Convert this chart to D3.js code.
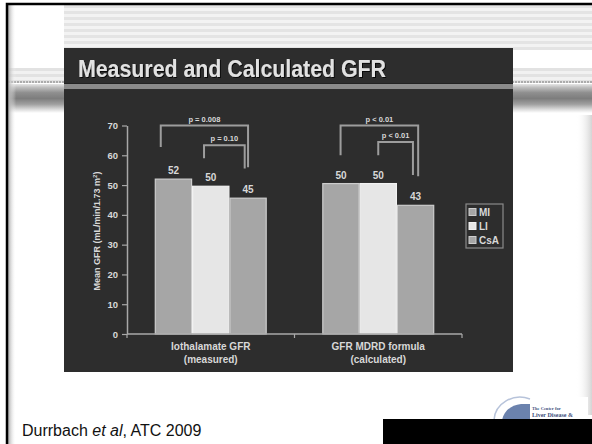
<!DOCTYPE html>
<html>
<head>
<meta charset="utf-8">
<script src="https://cdn.jsdelivr.net/npm/d3@7"></script>
<style>
  html, body { margin: 0; padding: 0; background: #fff; }
  svg { display: block; }
  text { font-family: 'Liberation Sans', Arial, sans-serif; }
</style>
</head>
<body>
<svg id="chart" width="592" height="444"></svg>
<script>
'use strict'

// chart data
var categories = ['Iothalamate GFR|(measured)', 'GFR MDRD formula|(calculated)']
var series = ['MI', 'LI', 'CsA']
var miValues = [52, 50.5]
var liValues = [49.6, 50.5]
var csaValues = [45.6, 43.2]
var valueLabels = [['52', '50', '45'], ['50', '50', '43']]
var yTicks = [0, 10, 20, 30, 40, 50, 60, 70]

// significance brackets: group, bar index + where on the bar, heights in data units
var brackets = [
  { group: 0, from: 0, fromAt: 0.16, to: 2, toAt: 0.5, top: 70, leftEnd: 62.8, rightEnd: 56, label: 'p = 0.008' },
  { group: 0, from: 1, fromAt: 0.32, to: 2, toAt: 0.41, top: 63.4, leftEnd: 59, rightEnd: 55.6, label: 'p = 0.10' },
  { group: 1, from: 0, fromAt: 0.49, to: 2, toAt: 0.57, top: 70, leftEnd: 60, rightEnd: 53, label: 'p < 0.01' },
  { group: 1, from: 1, fromAt: 0.5, to: 2, toAt: 0.43, top: 64.5, leftEnd: 60, rightEnd: 53.4, label: 'p < 0.01' }
]

var seriesValues = [miValues, liValues, csaValues]
var fills = { MI: '#a6a6a6', LI: '#e6e6e6', CsA: '#a6a6a6' }
var strokes = { MI: '#cdcdcd', LI: '#f2f2f2', CsA: '#cdcdcd' }

var svg = d3.select('#chart')
var defs = svg.append('defs')

// ---- slide background ----
var band = defs.append('linearGradient').attr('id', 'band')
  .attr('x1', 0).attr('y1', 0).attr('x2', 0).attr('y2', 1)
band.selectAll('stop')
  .data([[0, '#e6e6e6'], [0.12, '#bdbdbd'], [0.3, '#8f8f8f'], [0.5, '#7d7d7d'], [0.7, '#a0a0a0'], [0.88, '#dcdcdc'], [1, '#ffffff']])
  .enter().append('stop')
    .attr('offset', (d) => d[0])
    .attr('stop-color', (d) => d[1])

var leftShadow = defs.append('linearGradient').attr('id', 'leftShadow')
leftShadow.append('stop').attr('offset', 0).attr('stop-color', '#a8a8a8')
leftShadow.append('stop').attr('offset', 1).attr('stop-color', '#ffffff').attr('stop-opacity', 0)

var rightShadow = defs.append('linearGradient').attr('id', 'rightShadow')
rightShadow.append('stop').attr('offset', 0).attr('stop-color', '#ffffff').attr('stop-opacity', 0)
rightShadow.append('stop').attr('offset', 1).attr('stop-color', '#d4d4d4')

var glow = defs.append('filter').attr('id', 'shadow')
glow.append('feDropShadow').attr('dx', 1).attr('dy', 1).attr('stdDeviation', 0.6)
  .attr('flood-color', '#000').attr('flood-opacity', 0.8)

svg.append('rect').attr('width', 592).attr('height', 444).attr('fill', '#fff')

// striped strip at top
var stripes = svg.append('g')
d3.range(5, 48, 3).forEach(function (y, i) {
  stripes.append('rect').attr('x', 64).attr('y', y).attr('width', 528).attr('height', 3)
    .attr('fill', i % 2 ? '#f3f3f3' : '#e4e4e4')
})
d3.range(68, 81, 3).forEach(function (y, i) {
  stripes.append('rect').attr('x', 8).attr('y', y).attr('width', 584).attr('height', 3)
    .attr('fill', i % 2 ? '#f1f1f1' : '#e2e2e2')
})
svg.append('line').attr('x1', 8).attr('x2', 592).attr('y1', 82).attr('y2', 82)
  .attr('stroke', '#999').attr('stroke-width', 1.5).attr('stroke-dasharray', '2,1')
svg.append('rect').attr('x', 8).attr('y', 84).attr('width', 584).attr('height', 29)
  .attr('fill', 'url(#band)')

svg.append('rect').attr('x', 8).attr('y', 5).attr('width', 8).attr('height', 439).attr('fill', 'url(#leftShadow)')
svg.append('rect').attr('x', 576).attr('y', 115).attr('width', 16).attr('height', 300).attr('fill', 'url(#rightShadow)')

// frame
svg.append('path').attr('d', 'M7,444V4H592').attr('fill', 'none')
  .attr('stroke', '#000').attr('stroke-width', 2.5)

// dark panel
svg.append('rect').attr('x', 64).attr('y', 48).attr('width', 449).attr('height', 324).attr('fill', '#2d2d2d')
svg.append('rect').attr('x', 64).attr('y', 83).attr('width', 449).attr('height', 1).attr('fill', '#222')
svg.append('rect').attr('x', 64).attr('y', 84).attr('width', 449).attr('height', 5).attr('fill', '#8a8a8a')

svg.append('text')
  .attr('x', 78).attr('y', 77)
  .attr('fill', '#e2e2e2')
  .attr('filter', 'url(#shadow)')
  .attr('textLength', 308)
  .attr('lengthAdjust', 'spacingAndGlyphs')
  .style('font-weight', 'bold')
  .style('font-size', '24px')
  .text('Measured and Calculated GFR')

// ---- chart ----
var x0 = d3.scaleBand().domain(categories).range([127, 462])
var x1 = d3.scaleBand().domain(series).range([0, x0.bandwidth()]).paddingOuter(0.745)
var y = d3.scaleLinear().domain([0, 70]).range([334, 125.5])

var ink = '#d8d8d8'
var axisColor = '#a8a8a8'

var yAxis = svg.append('g')
  .attr('transform', 'translate(127,0)')
  .call(d3.axisLeft(y).tickValues(yTicks).tickSize(5).tickSizeOuter(0).tickPadding(4))
yAxis.select('.domain').attr('stroke', axisColor).attr('stroke-width', 1.5)
yAxis.selectAll('.tick line').attr('stroke', axisColor).attr('stroke-width', 1.2)
yAxis.selectAll('.tick text')
  .attr('fill', ink)
  .style('font-size', '9.5px')
  .style('font-weight', 'bold')
  .style('font-family', "'Liberation Sans', Arial, sans-serif")

var yTitle = svg.append('text')
  .attr('transform', 'translate(100,231) rotate(-90)')
  .attr('text-anchor', 'middle')
  .attr('fill', ink)
  .style('font-size', '9px')
  .style('font-weight', 'bold')
yTitle.append('tspan').text('Mean GFR (mL/min/1.73 m')
yTitle.append('tspan').attr('baseline-shift', 'super').style('font-size', '6px').text('2')
yTitle.append('tspan').text(')')

// bars
var rows = categories.map((c, gi) => series.map((s, si) => ({
  category: c, group: gi, series: s, index: si, value: seriesValues[si][gi], label: valueLabels[gi][si]
})))

var groups = svg.append('g').selectAll('g')
  .data(rows)
  .enter().append('g')
    .attr('transform', (d, i) => 'translate(' + x0(categories[i]) + ',0)')

groups.selectAll('rect')
  .data((d) => d)
  .enter().append('rect')
    .attr('x', (d) => x1(d.series) + 0.5)
    .attr('y', (d) => y(d.value))
    .attr('width', x1.bandwidth() - 1)
    .attr('height', (d) => y(0) - y(d.value))
    .attr('fill', (d) => fills[d.series])
    .attr('stroke', (d) => strokes[d.series])
    .attr('stroke-width', 1.2)

groups.selectAll('text')
  .data((d) => d)
  .enter().append('text')
    .attr('x', (d) => x1(d.series) + x1.bandwidth() / 2)
    .attr('y', (d) => y(d.value) - 5)
    .attr('text-anchor', 'middle')
    .attr('fill', ink)
    .style('font-size', '10px')
    .style('font-weight', 'bold')
    .text((d) => d.label)

// x axis
var xAxis = svg.append('g')
xAxis.append('line')
  .attr('x1', x0.range()[0]).attr('x2', x0.range()[1])
  .attr('y1', y(0)).attr('y2', y(0))
  .attr('stroke', axisColor).attr('stroke-width', 1.5)
xAxis.selectAll('line.tick')
  .data(categories.map((c) => x0(c) + x0.bandwidth()).concat([x0.range()[0]]))
  .enter().append('line')
    .attr('class', 'tick')
    .attr('x1', (d) => d).attr('x2', (d) => d)
    .attr('y1', y(0)).attr('y2', y(0) + 4)
    .attr('stroke', axisColor).attr('stroke-width', 1.2)

var xLabels = xAxis.selectAll('text')
  .data(categories)
  .enter().append('text')
    .attr('x', (d) => x0(d) + x0.bandwidth() / 2)
    .attr('y', y(0) + 16)
    .attr('text-anchor', 'middle')
    .attr('fill', ink)
    .style('font-size', '10px')
    .style('font-weight', 'bold')
xLabels.selectAll('tspan')
  .data((d) => d.split('|'))
  .enter().append('tspan')
    .attr('x', function () { return this.parentNode.getAttribute('x') })
    .attr('dy', (d, i) => i ? 13 : 0)
    .text((d) => d)

// brackets
function barX (b, idx, at) {
  var gx = x0(categories[b.group])
  return gx + x1(series[idx]) + at * x1.bandwidth()
}

var br = svg.append('g').selectAll('g')
  .data(brackets)
  .enter().append('g')

br.append('path')
  .attr('d', (b) => {
    var xa = barX(b, b.from, b.fromAt)
    var xb = barX(b, b.to, b.toAt)
    return 'M' + xa + ',' + y(b.leftEnd) + 'V' + y(b.top) + 'H' + xb + 'V' + y(b.rightEnd)
  })
  .attr('fill', 'none')
  .attr('stroke', '#9d9d9d')
  .attr('stroke-width', 2)

br.append('text')
  .attr('x', (b) => (barX(b, b.from, b.fromAt) + barX(b, b.to, b.toAt)) / 2)
  .attr('y', (b) => y(b.top) - 4)
  .attr('text-anchor', 'middle')
  .attr('fill', ink)
  .style('font-size', '7.5px')
  .style('font-weight', 'bold')
  .text((b) => b.label)

// legend
var legend = svg.append('g').attr('transform', 'translate(466,204)')
legend.append('rect')
  .attr('width', 37).attr('height', 44)
  .attr('fill', 'none').attr('stroke', '#8a8a8a').attr('stroke-width', 1.2)
var item = legend.selectAll('g.item')
  .data(series)
  .enter().append('g')
    .attr('class', 'item')
    .attr('transform', (d, i) => 'translate(3,' + (8 + i * 14) + ')')
item.append('rect')
  .attr('y', -3.5).attr('width', 7).attr('height', 7)
  .attr('fill', (d) => fills[d])
  .attr('stroke', (d) => strokes[d]).attr('stroke-width', 1)
item.append('text')
  .attr('x', 10).attr('y', 3.5)
  .attr('fill', ink)
  .style('font-size', '10px')
  .style('font-weight', 'bold')
  .text((d) => d)

// ---- footer ----
var cite = svg.append('text')
  .attr('x', 22).attr('y', 436)
  .attr('fill', '#111')
  .style('font-size', '16px')
cite.append('tspan').text('Durrbach ')
cite.append('tspan').style('font-style', 'italic').text('et al')
cite.append('tspan').text(', ATC 2009')

// logo
var logo = svg.append('g')
logo.append('rect').attr('x', 528).attr('y', 397).attr('width', 60).attr('height', 24).attr('fill', '#fff')
logo.append('path')
  .attr('d', 'M494,420 A26,24 0 0 1 530,399')
  .attr('fill', 'none').attr('stroke', '#b7c3da').attr('stroke-width', 1.5)
logo.append('path')
  .attr('d', 'M502,420 C504,411 511,405 521,404 L530,404 L530,420 Z')
  .attr('fill', '#6b82ad')
logo.append('text').attr('x', 532).attr('y', 410).attr('fill', '#3d4f7c')
  .style('font-size', '4.5px').style('font-family', "'Liberation Serif', serif").style('font-weight', 'bold')
  .text('The Center for')
logo.append('text').attr('x', 532).attr('y', 417).attr('fill', '#3d4f7c')
  .style('font-size', '6px').style('font-family', "'Liberation Serif', serif").style('font-weight', 'bold')
  .text('Liver Disease &')

svg.append('rect').attr('x', 383).attr('y', 419).attr('width', 209).attr('height', 25).attr('fill', '#000')
</script>
</body>
</html>
